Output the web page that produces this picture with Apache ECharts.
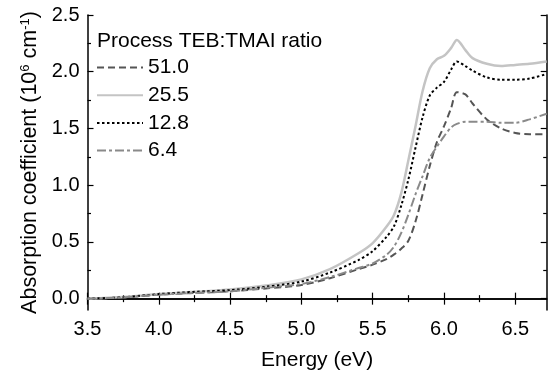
<!DOCTYPE html>
<html>
<head>
<meta charset="utf-8">
<script src="https://cdn.jsdelivr.net/npm/echarts@6/dist/echarts.min.js"></script>
<style>html,body{margin:0;padding:0;background:#fff}#c{width:548px;height:376px}</style>
</head>
<body>
<div id="c"></div>
<script>
const energy = [3.5, 3.75, 4.0, 4.25, 4.5, 4.75, 5.0, 5.2, 5.4, 5.5, 5.6, 5.65, 5.7, 5.75, 5.8, 5.85, 5.9, 5.95, 6.0, 6.05, 6.09, 6.15, 6.2, 6.3, 6.4, 6.5, 6.6, 6.72];
const r51 = [0.0, 0.01, 0.035, 0.05, 0.065, 0.09, 0.12, 0.18, 0.26, 0.30, 0.35, 0.39, 0.44, 0.51, 0.68, 0.92, 1.17, 1.38, 1.52, 1.68, 1.82, 1.80, 1.72, 1.58, 1.50, 1.46, 1.45, 1.45];
const r255 = [0.0, 0.015, 0.04, 0.06, 0.08, 0.115, 0.17, 0.26, 0.40, 0.49, 0.64, 0.74, 0.93, 1.22, 1.52, 1.83, 2.03, 2.11, 2.14, 2.21, 2.28, 2.19, 2.12, 2.07, 2.05, 2.06, 2.07, 2.09];
const r128 = [0.0, 0.012, 0.04, 0.06, 0.075, 0.105, 0.15, 0.23, 0.34, 0.42, 0.55, 0.64, 0.82, 1.05, 1.33, 1.60, 1.79, 1.86, 1.91, 2.02, 2.09, 2.05, 2.01, 1.95, 1.93, 1.93, 1.94, 1.98];
const r64 = [0.0, 0.01, 0.035, 0.05, 0.065, 0.095, 0.13, 0.19, 0.27, 0.31, 0.39, 0.46, 0.58, 0.74, 0.92, 1.08, 1.24, 1.34, 1.43, 1.51, 1.54, 1.56, 1.56, 1.56, 1.55, 1.55, 1.58, 1.63];
const seriesNames = ['51.0', '25.5', '12.8', '6.4'];
const xMajor = [3.5, 4.0, 4.5, 5.0, 5.5, 6.0, 6.5];
const xMinor = [3.75, 4.25, 4.75, 5.25, 5.75, 6.25];
const yMajor = [0, 0.5, 1.0, 1.5, 2.0, 2.5];
const yMinor = [0.25, 0.75, 1.25, 1.75, 2.25];

const FONT = 'Liberation Sans, Arial, sans-serif';
const pair = v => energy.map((e, i) => [e, v[i]]);
const axLine = {show: true, lineStyle: {color: '#000', width: 1.5}};
const tickStyle = {color: '#000', width: 1.2};

function xAx(pos, vals, len, labels, line) {
  return {
    type: 'value', min: 3.5, max: 6.72, position: pos,
    axisLine: line ? axLine : {show: false},
    axisTick: {show: true, inside: true, length: len, customValues: vals, lineStyle: tickStyle},
    axisLabel: labels ? {show: true, customValues: vals, formatter: v => v.toFixed(1), fontSize: 20, color: '#000', fontFamily: FONT, margin: 9} : {show: false},
    splitLine: {show: false}
  };
}
function yAx(pos, vals, len, labels, line) {
  return {
    type: 'value', min: -0.1, max: 2.5, position: pos,
    axisLine: line ? axLine : {show: false},
    axisTick: {show: true, inside: true, length: len, customValues: vals, lineStyle: tickStyle},
    axisLabel: labels ? {show: true, customValues: vals, formatter: v => v.toFixed(1), fontSize: 20, color: '#000', fontFamily: FONT, margin: 8} : {show: false},
    splitLine: {show: false}
  };
}

const xAxes = [xAx('bottom', xMajor, 6, true, true), xAx('bottom', xMinor, 3.5, false, false), xAx('top', xMajor, 6, false, true), xAx('top', xMinor, 3.5, false, false)];
Object.assign(xAxes[0], {name: 'Energy (eV)', nameLocation: 'middle', nameGap: 40, nameTextStyle: {fontSize: 21, color: '#000', fontFamily: FONT}});
const yAxes = [yAx('left', yMajor, 6, true, true), yAx('left', yMinor, 3.5, false, false), yAx('right', yMajor, 6, false, true), yAx('right', yMinor, 3.5, false, false)];
Object.assign(yAxes[0], {
  name: 'Absorption coefficient (10{sup|6} cm{sup|-1})', nameLocation: 'middle', nameGap: 39, nameRotate: 90,
  nameTextStyle: {fontSize: 21.5, color: '#000', fontFamily: FONT, rich: {sup: {fontSize: 13, color: '#000', fontFamily: FONT, verticalAlign: 'top', padding: [0, 0, 6, 0]}}}
});

const styles = [
  {color: '#555555', width: 2, type: [7, 4]},
  {color: '#c4c4c4', width: 2.5, type: 'solid'},
  {color: '#000000', width: 2, type: [2.5, 2.5]},
  {color: '#8a8a8a', width: 2, type: [9, 3, 3, 3]}
];
const values = [r51, r255, r128, r64];

const chart = echarts.init(document.getElementById('c'), null, {renderer: 'canvas'});
chart.setOption({
  animation: false,
  backgroundColor: '#fff',
  title: {text: 'Process TEB:TMAI ratio', left: 92, top: 26, textStyle: {fontSize: 21, fontWeight: 'normal', color: '#000', fontFamily: FONT}},
  legend: {
    orient: 'vertical', left: 91, top: 49, itemWidth: 46, itemHeight: 14, itemGap: 0.7,
    data: seriesNames,
    itemStyle: {opacity: 0},
    textStyle: {fontSize: 21, color: '#000', fontFamily: FONT, lineHeight: 27}
  },
  grid: {left: 87.5, right: 1.3, top: 15, bottom: 63},
  xAxis: xAxes,
  yAxis: yAxes,
  series: seriesNames.map((n, i) => ({
    name: n, type: 'line', xAxisIndex: 0, yAxisIndex: 0, symbol: 'none', smooth: 0.3,
    lineStyle: styles[i], itemStyle: {color: styles[i].color},
    data: pair(values[i])
  }))
});
</script>
</body>
</html>
